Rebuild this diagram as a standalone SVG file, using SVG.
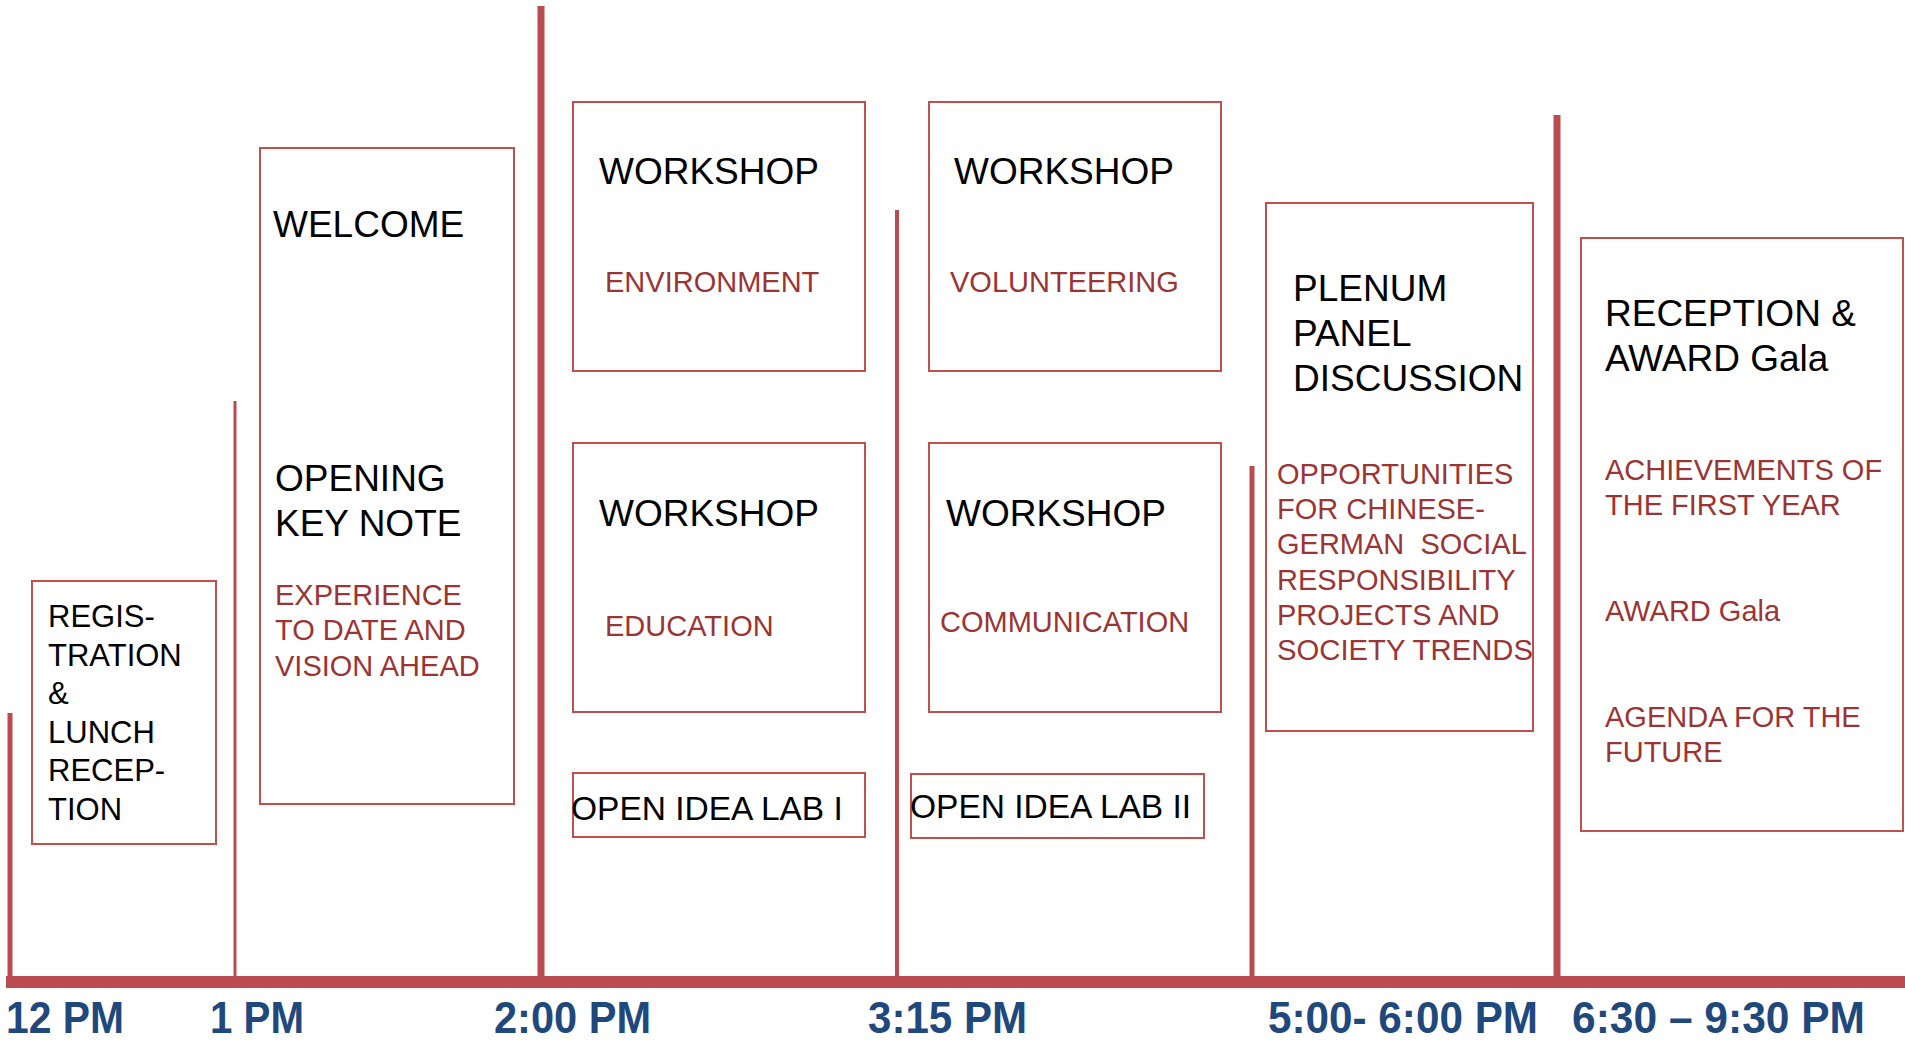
<svg xmlns="http://www.w3.org/2000/svg" width="1905" height="1042" viewBox="0 0 1905 1042">
<style>
.box{fill:#fff;stroke:#C0504D;stroke-width:2}
.ln{stroke:#B84C50;fill:none}
.t{font-family:"Liberation Sans",Arial,sans-serif;fill:#000}
.h{font-size:37px}
.r{font-family:"Liberation Sans",Arial,sans-serif;font-size:29px;fill:#9B3535}
.tm{font-family:"Liberation Sans",Arial,sans-serif;font-size:44px;font-weight:bold;fill:#1F497D}
</style>
<rect width="1905" height="1042" fill="#fff"/>
<g id="connectors">
<line class="ln" x1="10" y1="713" x2="10" y2="982" stroke-width="5"/>
<line class="ln" x1="235" y1="401" x2="235" y2="982" stroke-width="3"/>
<line class="ln" x1="541" y1="6" x2="541" y2="982" stroke-width="7"/>
<line class="ln" x1="897" y1="210" x2="897" y2="982" stroke-width="4"/>
<line class="ln" x1="1252" y1="466" x2="1252" y2="982" stroke-width="5"/>
<line class="ln" x1="1557" y1="115" x2="1557" y2="982" stroke-width="7"/>
<line class="ln" x1="6" y1="982" x2="1905" y2="982" stroke-width="12"/>
</g>
<g id="registration">
<rect class="box" x="32" y="581" width="184" height="263"/>
<text class="t" font-size="31" x="48"><tspan x="48" y="627">REGIS-</tspan><tspan x="48" y="666">TRATION</tspan><tspan x="48" y="704">&amp;</tspan><tspan x="48" y="743">LUNCH</tspan><tspan x="48" y="781">RECEP-</tspan><tspan x="48" y="820">TION</tspan></text>
</g>
<g id="welcome">
<rect class="box" x="260" y="148" width="254" height="656"/>
<text class="t h" x="273" y="237">WELCOME</text>
<text class="t h"><tspan x="275" y="491">OPENING</tspan><tspan x="275" y="536">KEY NOTE</tspan></text>
<text class="r"><tspan x="275" y="605">EXPERIENCE</tspan><tspan x="275" y="640">TO DATE AND</tspan><tspan x="275" y="676">VISION AHEAD</tspan></text>
</g>
<g id="ws-environment">
<rect class="box" x="573" y="102" width="292" height="269"/>
<text class="t h" x="599" y="184">WORKSHOP</text>
<text class="r" x="605" y="292">ENVIRONMENT</text>
</g>
<g id="ws-volunteering">
<rect class="box" x="929" y="102" width="292" height="269"/>
<text class="t h" x="954" y="184">WORKSHOP</text>
<text class="r" x="950" y="292">VOLUNTEERING</text>
</g>
<g id="ws-education">
<rect class="box" x="573" y="443" width="292" height="269"/>
<text class="t h" x="599" y="526">WORKSHOP</text>
<text class="r" x="605" y="636">EDUCATION</text>
</g>
<g id="ws-communication">
<rect class="box" x="929" y="443" width="292" height="269"/>
<text class="t h" x="946" y="526">WORKSHOP</text>
<text class="r" x="940" y="632">COMMUNICATION</text>
</g>
<g id="lab1">
<rect class="box" x="573" y="773" width="292" height="64"/>
<text class="t" font-size="33.5" x="571" y="820">OPEN IDEA LAB I</text>
</g>
<g id="lab2">
<rect class="box" x="911" y="774" width="293" height="64"/>
<text class="t" font-size="33.5" x="910" y="818">OPEN IDEA LAB II</text>
</g>
<g id="plenum">
<rect class="box" x="1266" y="203" width="267" height="528"/>
<text class="t h"><tspan x="1293" y="301">PLENUM</tspan><tspan x="1293" y="346">PANEL</tspan><tspan x="1293" y="391">DISCUSSION</tspan></text>
<text class="r"><tspan x="1277" y="484">OPPORTUNITIES</tspan><tspan x="1277" y="519">FOR CHINESE-</tspan><tspan x="1277" y="554" xml:space="preserve">GERMAN  SOCIAL</tspan><tspan x="1277" y="590">RESPONSIBILITY</tspan><tspan x="1277" y="625">PROJECTS AND</tspan></text>
<text class="r" x="1277" y="660" textLength="256" lengthAdjust="spacingAndGlyphs">SOCIETY TRENDS</text>
</g>
<g id="reception">
<rect class="box" x="1581" y="238" width="322" height="593"/>
<text class="t h"><tspan x="1605" y="326">RECEPTION &amp;</tspan><tspan x="1605" y="371">AWARD Gala</tspan></text>
<text class="r"><tspan x="1605" y="480">ACHIEVEMENTS OF</tspan><tspan x="1605" y="515">THE FIRST YEAR</tspan><tspan x="1605" y="621">AWARD Gala</tspan><tspan x="1605" y="727">AGENDA FOR THE</tspan><tspan x="1605" y="762">FUTURE</tspan></text>
</g>
<g id="times">
<text class="tm" x="6" y="1033" textLength="118" lengthAdjust="spacingAndGlyphs">12 PM</text>
<text class="tm" x="210" y="1033" textLength="94" lengthAdjust="spacingAndGlyphs">1 PM</text>
<text class="tm" x="494" y="1033" textLength="157" lengthAdjust="spacingAndGlyphs">2:00 PM</text>
<text class="tm" x="868" y="1033" textLength="159" lengthAdjust="spacingAndGlyphs">3:15 PM</text>
<text class="tm" x="1268" y="1033" textLength="270" lengthAdjust="spacingAndGlyphs">5:00- 6:00 PM</text>
<text class="tm" x="1572" y="1033" textLength="293" lengthAdjust="spacingAndGlyphs">6:30 – 9:30 PM</text>
</g>
</svg>
